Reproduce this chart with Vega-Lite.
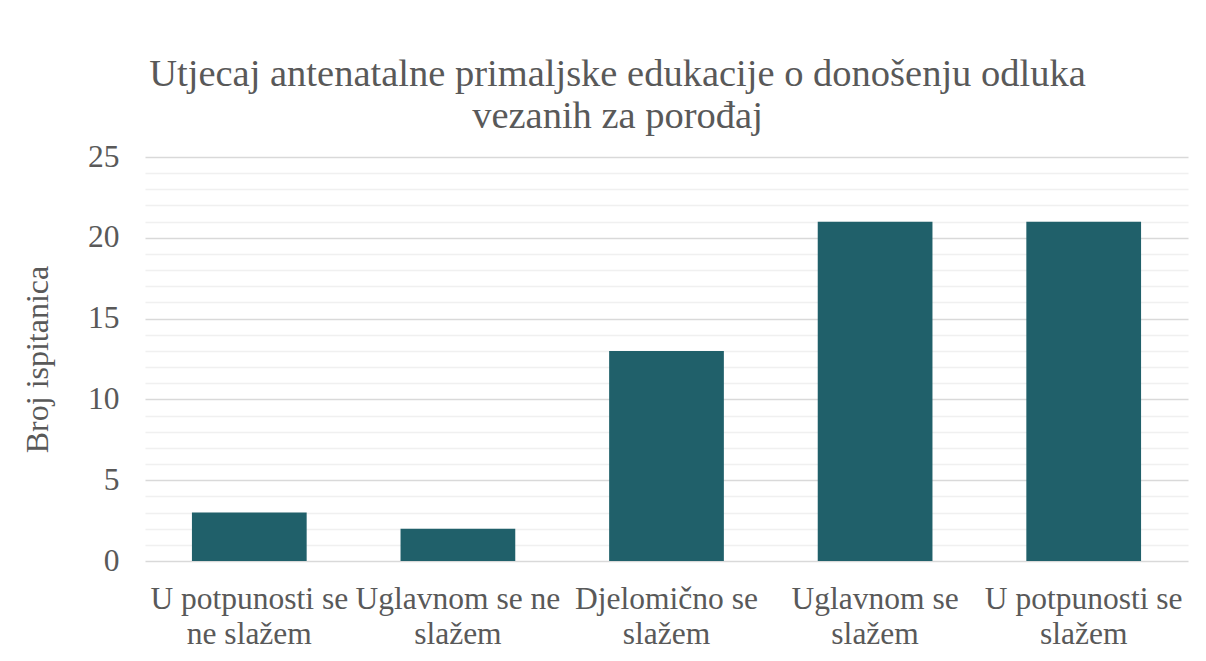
{
  "$schema": "https://vega.github.io/schema/vega-lite/v6.json",
  "autosize": {"type": "none"},
  "width": 1043,
  "height": 404,
  "padding": {"left": 145, "top": 157, "right": 18, "bottom": 100},
  "background": "white",
  "title": {
    "text": ["Utjecaj antenatalne primaljske edukacije o donošenju odluka", "vezanih za porođaj"],
    "font": "Liberation Serif",
    "fontSize": 38.5,
    "fontWeight": "normal",
    "color": "#595959",
    "lineHeight": 42,
    "anchor": "middle",
    "dx": -49,
    "offset": 5
  },
  "data": {
    "values": [
      {"kategorija": "U potpunosti se ne slažem", "broj": 3},
      {"kategorija": "Uglavnom se ne slažem", "broj": 2},
      {"kategorija": "Djelomično se slažem", "broj": 13},
      {"kategorija": "Uglavnom se slažem", "broj": 21},
      {"kategorija": "U potpunosti se slažem", "broj": 21}
    ]
  },
  "mark": {"type": "bar", "color": "#20606a"},
  "encoding": {
    "x": {
      "field": "kategorija",
      "type": "nominal",
      "sort": null,
      "scale": {"paddingInner": 0.45, "paddingOuter": 0.225},
      "axis": {
        "title": null,
        "labelAngle": 0,
        "domain": false,
        "ticks": false,
        "labelLimit": 0,
        "labelOverlap": false,
        "labelFont": "Liberation Serif",
        "labelFontSize": 31.5,
        "labelColor": "#595959",
        "labelLineHeight": 35,
        "labelPadding": 22,
        "labelExpr": "{'U potpunosti se ne slažem': ['U potpunosti se', 'ne slažem'], 'Uglavnom se ne slažem': ['Uglavnom se ne', 'slažem'], 'Djelomično se slažem': ['Djelomično se', 'slažem'], 'Uglavnom se slažem': ['Uglavnom se', 'slažem'], 'U potpunosti se slažem': ['U potpunosti se', 'slažem']}[datum.label]"
      }
    },
    "y": {
      "field": "broj",
      "type": "quantitative",
      "scale": {"domain": [0, 25]},
      "axis": {
        "title": "Broj ispitanica",
        "titleFont": "Liberation Serif",
        "titleFontSize": 32,
        "titleFontWeight": "normal",
        "titleColor": "#595959",
        "titlePadding": 33,
        "values": [0,1,2,3,4,5,6,7,8,9,10,11,12,13,14,15,16,17,18,19,20,21,22,23,24,25],
        "labelExpr": "datum.value % 5 === 0 ? datum.label : ''",
        "labelFont": "Liberation Serif",
        "labelFontSize": 31.5,
        "labelColor": "#595959",
        "labelPadding": 26,
        "domain": false,
        "ticks": false,
        "grid": true,
        "gridColor": {"condition": {"test": "datum.value % 5 === 0", "value": "#d9d9d9"}, "value": "#f0f0f0"},
        "gridWidth": 1.3
      }
    }
  },
  "config": {"view": {"stroke": null}}
}
